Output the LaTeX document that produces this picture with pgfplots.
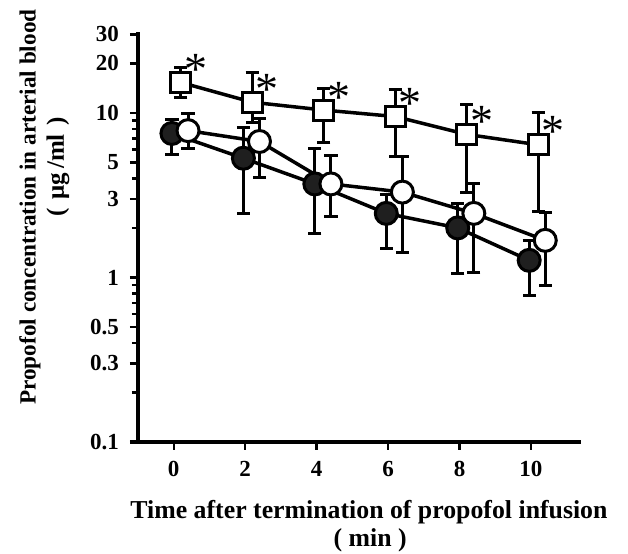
\documentclass[border=0pt]{standalone}
\usepackage{fontspec}
\setmainfont{Liberation Serif}
\usepackage{pgfplots}
\pgfplotsset{compat=1.18}
\usepackage{pgfplotstable}

\pgfplotstableread{
x y ep em
-0.05 7.5 1.6 1.9
1.95 5.3 2.9 2.85
3.95 3.7 2.4 1.85
5.95 2.45 0.75 0.95
7.95 2.0 0.8 0.94
9.95 1.27 0.41 0.49
}\filled

\pgfplotstableread{
x y ep em
0.4 7.8 2.1 1.7
2.4 6.7 2.6 2.65
4.4 3.7 1.8 1.35
6.4 3.3 2.1 1.88
8.4 2.45 1.25 1.38
10.4 1.68 0.8 0.79
}\open

\pgfplotstableread{
x y ep em
0.2 15.3 3.6 2.9
2.2 11.6 6.0 2.9
4.2 10.4 3.7 3.8
6.2 9.5 4.4 4.1
8.2 7.4 3.9 4.1
10.2 6.4 3.7 3.9
}\squares

\begin{document}
\begin{tikzpicture}
\begin{axis}[
  scale only axis, width=221.5pt, height=205pt,
  ymode=log, xmin=-1, xmax=11.4, ymin=0.1, ymax=31,
  axis x line=bottom, axis y line=left,
  axis line style={-, line width=2pt},
  x axis line style={shorten <=-4pt},
  xtick={0,2,4,6,8,10},
  ytick={0.1,0.3,0.5,1,3,5,10,20,30},
  yticklabels={0.1,0.3,0.5,1,3,5,10,20,30},
  minor ytick={0.2,0.4,0.6,0.7,0.8,0.9,2,4,6,7,8,9},
  tick align=outside, major tick length=4pt, minor tick length=3pt,
  tick style={line width=1.2pt, black},
  /pgf/number format/assume math mode=true,
  ticklabel style={font=\fontsize{11.5}{13}\selectfont\bfseries},
  yticklabel style={xshift=-2pt},
  xticklabel style={yshift=-2pt},
  xlabel={Time after termination of propofol infusion},
  xlabel style={at={(axis description cs:0.5214,-0.1707)}, anchor=center, font=\fontsize{12.9}{14}\selectfont\bfseries},
  ylabel={Propofol concentration in arterial blood},
  ylabel style={at={(axis description cs:-0.2438,0.573)}, anchor=center, font=\fontsize{11.6}{14}\selectfont\bfseries},
  clip=false,
]
\addplot[black, line width=1.75pt, mark=*, mark size=5.5pt,
  mark options={fill=black!88, draw=black, line width=1.5pt},
  error bars/.cd, y dir=both, y explicit,
  error bar style={line width=1.5pt},
  error mark options={rotate=90, mark size=3.3pt, line width=1.5pt}]
  table[x=x, y=y, y error plus=ep, y error minus=em]{\filled};
\addplot[black, line width=1.75pt, mark=*, mark size=5.5pt,
  mark options={fill=white, draw=black, line width=1.5pt},
  error bars/.cd, y dir=both, y explicit,
  error bar style={line width=1.5pt},
  error mark options={rotate=90, mark size=3.3pt, line width=1.5pt}]
  table[x=x, y=y, y error plus=ep, y error minus=em]{\open};
\addplot[black, line width=1.75pt, mark=square*, mark size=5pt,
  mark options={fill=white, draw=black, line width=1.5pt},
  error bars/.cd, y dir=both, y explicit,
  error bar style={line width=1.5pt},
  error mark options={rotate=90, mark size=3.3pt, line width=1.5pt}]
  table[x=x, y=y, y error plus=ep, y error minus=em]{\squares};
\addplot[draw=none, mark=none, nodes near coords={*},
  every node near coord/.append style={anchor=base, xshift=7.5pt, yshift=-1pt, inner sep=0pt, font=\fontsize{23}{23}\selectfont}]
  table[x=x, y=y]{\squares};
\node[rotate=90, anchor=center, font=\fontsize{12.5}{14}\selectfont\bfseries] at (axis description cs:-0.1806,0.671) {(\,\,μg\,/ml\,\,)};
\node[anchor=center, font=\fontsize{12.9}{14}\selectfont\bfseries] at (axis description cs:0.524,-0.239) {( min )};
\end{axis}
\pgfresetboundingbox
\path[use as bounding box] (-69pt,-55.5pt) rectangle (245pt,221pt);
\end{tikzpicture}
\end{document}
